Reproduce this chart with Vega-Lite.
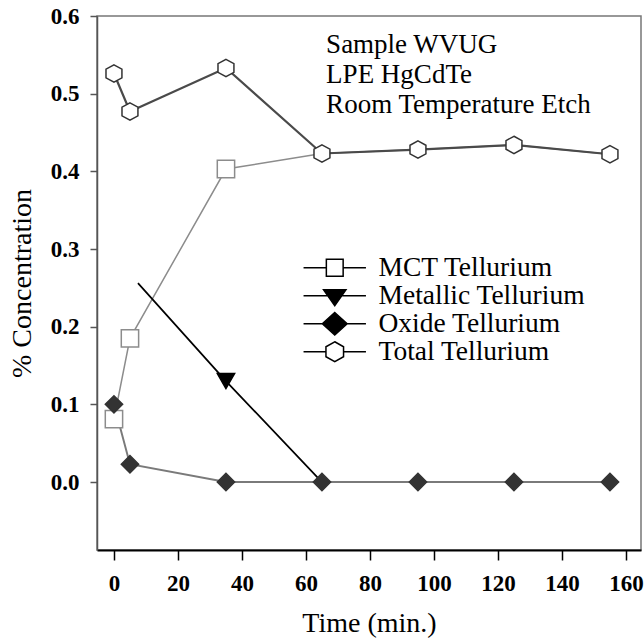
{
  "$schema": "https://vega.github.io/schema/vega-lite/v6.json",
  "width": 544,
  "height": 534,
  "autosize": "none",
  "padding": {"left": 97, "top": 16, "right": 3, "bottom": 90},
  "config": {
    "font": "Liberation Serif",
    "view": {"stroke": "#777", "strokeWidth": 1.5},
    "axis": {"grid": false}
  },
  "data": {
    "values": [
      {"series": "MCT Tellurium", "time": 0, "conc": 0.081},
      {"series": "MCT Tellurium", "time": 5, "conc": 0.185},
      {"series": "MCT Tellurium", "time": 35, "conc": 0.403},
      {"series": "MCT Tellurium", "time": 65, "conc": 0.423},
      {"series": "MCT Tellurium", "time": 95, "conc": 0.428},
      {"series": "MCT Tellurium", "time": 125, "conc": 0.434},
      {"series": "MCT Tellurium", "time": 155, "conc": 0.422},
      {"series": "Metallic Tellurium", "time": 7.5, "conc": 0.256},
      {"series": "Metallic Tellurium", "time": 35, "conc": 0.13},
      {"series": "Metallic Tellurium", "time": 65, "conc": 0.0},
      {"series": "Oxide Tellurium", "time": 0, "conc": 0.1},
      {"series": "Oxide Tellurium", "time": 5, "conc": 0.023},
      {"series": "Oxide Tellurium", "time": 35, "conc": 0.0},
      {"series": "Oxide Tellurium", "time": 65, "conc": 0.0},
      {"series": "Oxide Tellurium", "time": 95, "conc": 0.0},
      {"series": "Oxide Tellurium", "time": 125, "conc": 0.0},
      {"series": "Oxide Tellurium", "time": 155, "conc": 0.0},
      {"series": "Total Tellurium", "time": 0, "conc": 0.526},
      {"series": "Total Tellurium", "time": 5, "conc": 0.477},
      {"series": "Total Tellurium", "time": 35, "conc": 0.533},
      {"series": "Total Tellurium", "time": 65, "conc": 0.423},
      {"series": "Total Tellurium", "time": 95, "conc": 0.428},
      {"series": "Total Tellurium", "time": 125, "conc": 0.434},
      {"series": "Total Tellurium", "time": 155, "conc": 0.422}
    ]
  },
  "resolve": {"scale": {"shape": "independent", "fill": "independent", "stroke": "independent"}},
  "layer": [
    {
      "mark": {"type": "line"},
      "encoding": {
        "x": {
          "field": "time",
          "type": "quantitative",
          "scale": {"domain": [-5.3, 164.7], "nice": false, "zero": false},
          "axis": {
            "values": [0, 20, 40, 60, 80, 100, 120, 140, 160],
            "title": "Time (min.)",
            "tickSize": 10,
            "labelPadding": 12,
            "labelFontSize": 23,
            "labelFontWeight": "bold",
            "labelColor": "#000",
            "labelFlush": false,
            "titleFontSize": 28,
            "titleFontWeight": "normal",
            "titleColor": "#000",
            "titlePadding": 14,
            "domainColor": "#000",
            "domainWidth": 2,
            "tickColor": "#000",
            "tickWidth": 1.5
          }
        },
        "y": {
          "field": "conc",
          "type": "quantitative",
          "scale": {"domain": [-0.0875, 0.6], "nice": false, "zero": false},
          "axis": {
            "values": [0, 0.1, 0.2, 0.3, 0.4, 0.5, 0.6],
            "format": ".1f",
            "title": "% Concentration",
            "tickSize": 7,
            "labelPadding": 11,
            "labelFontSize": 23,
            "labelFontWeight": "bold",
            "labelColor": "#000",
            "labelFlush": false,
            "titleFontSize": 28,
            "titleFontWeight": "normal",
            "titleColor": "#000",
            "titlePadding": 14,
            "domainColor": "#555",
            "domainWidth": 1.5,
            "tickColor": "#555",
            "tickWidth": 1.5
          }
        },
        "color": {
          "field": "series",
          "type": "nominal",
          "scale": {"range": ["#8c8c8c", "#000000", "#7a7a7a", "#4a4a4a"]},
          "legend": null
        },
        "strokeWidth": {
          "field": "series",
          "type": "nominal",
          "scale": {"range": [1.5, 2.2, 1.5, 1.5]},
          "legend": null
        }
      }
    },
    {
      "transform": [
        {"filter": "!(datum.series === 'MCT Tellurium' && datum.time >= 65) && !(datum.series === 'Metallic Tellurium' && (datum.time < 10 || datum.time >= 65))"}
      ],
      "mark": {"type": "point", "size": 300, "strokeWidth": 1.5, "opacity": 1},
      "encoding": {
        "x": {"field": "time", "type": "quantitative"},
        "y": {"field": "conc", "type": "quantitative"},
        "shape": {
          "field": "series",
          "type": "nominal",
          "scale": {"range": ["square", "triangle-down", "diamond", "M0,-1L0.92,-0.5L0.92,0.5L0,1L-0.92,0.5L-0.92,-0.5Z"]},
          "legend": null
        },
        "stroke": {
          "field": "series",
          "type": "nominal",
          "scale": {"range": ["#8c8c8c", "#000000", "#333333", "#333333"]},
          "legend": null
        },
        "fill": {
          "field": "series",
          "type": "nominal",
          "scale": {"range": ["#ffffff", "#000000", "#333333", "#ffffff"]},
          "legend": null
        }
      }
    },
    {
      "transform": [{"filter": "false"}],
      "mark": {"type": "point", "size": 256, "strokeWidth": 1.5, "opacity": 1},
      "encoding": {
        "x": {"field": "time", "type": "quantitative"},
        "y": {"field": "conc", "type": "quantitative"},
        "shape": {
          "field": "series",
          "type": "nominal",
          "scale": {
            "domain": ["MCT Tellurium", "Metallic Tellurium", "Oxide Tellurium", "Total Tellurium"],
            "range": [
              "M-3.9,0H-1.05M1.05,0H3.9M-1.05,-1.05H1.05V1.05H-1.05Z",
              "M-3.9,0H3.9M-1.4,-0.75H1.4L0,1.25Z",
              "M-3.9,0H3.9M0,-1.4L1.55,0L0,1.4L-1.55,0Z",
              "M-3.9,0H-1.1M1.1,0H3.9M0,-1.25L1.1,-0.62V0.62L0,1.25L-1.1,0.62V-0.62Z"
            ]
          },
          "legend": {
            "orient": "none",
            "legendX": 224,
            "legendY": 238,
            "title": null,
            "padding": 0,
            "rowPadding": -1,
            "labelFontSize": 27.5,
            "labelFont": "Liberation Serif",
            "labelColor": "#000",
            "labelOffset": 30,
            "symbolSize": 256,
            "symbolStrokeWidth": 1.5,
            "labelLimit": 400
          }
        },
        "fill": {
          "field": "series",
          "type": "nominal",
          "scale": {
            "domain": ["MCT Tellurium", "Metallic Tellurium", "Oxide Tellurium", "Total Tellurium"],
            "range": ["#ffffff", "#000000", "#000000", "#ffffff"]
          },
          "legend": {
            "orient": "none",
            "legendX": 224,
            "legendY": 238,
            "title": null,
            "padding": 0,
            "rowPadding": -1,
            "labelFontSize": 27.5,
            "labelFont": "Liberation Serif",
            "labelColor": "#000",
            "labelOffset": 30,
            "symbolSize": 256,
            "symbolStrokeWidth": 1.5,
            "labelLimit": 400
          }
        },
        "stroke": {
          "field": "series",
          "type": "nominal",
          "scale": {
            "domain": ["MCT Tellurium", "Metallic Tellurium", "Oxide Tellurium", "Total Tellurium"],
            "range": ["#000000", "#000000", "#000000", "#000000"]
          },
          "legend": {
            "orient": "none",
            "legendX": 224,
            "legendY": 238,
            "title": null,
            "padding": 0,
            "rowPadding": -1,
            "labelFontSize": 27.5,
            "labelFont": "Liberation Serif",
            "labelColor": "#000",
            "labelOffset": 30,
            "symbolSize": 256,
            "symbolStrokeWidth": 1.5,
            "labelLimit": 400
          }
        }
      }
    },
    {
      "transform": [{"aggregate": [{"op": "count", "as": "n"}]}],
      "mark": {"type": "text", "align": "left", "baseline": "top", "fontSize": 27, "lineHeight": 30, "color": "#000"},
      "encoding": {
        "x": {"datum": 66.3},
        "y": {"datum": 0.58},
        "text": {"value": ["Sample WVUG", "LPE HgCdTe", "Room Temperature Etch"]}
      }
    }
  ]
}
